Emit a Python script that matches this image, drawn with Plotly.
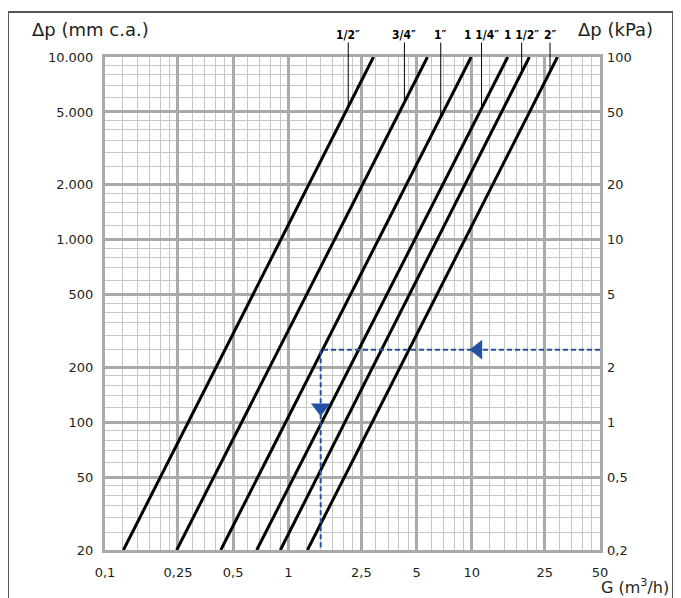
import numpy as np
import plotly.graph_objects as go

# ---------------- data ----------------
pipe_labels = ['1/2″', '3/4″', '1″', '1 1/4″', '1 1/2″', '2″']
dp_range_mm = [20, 10000]                      # Δp (mm c.a.) at the two ends of each line
g_at_dp_min = [0.126, 0.246, 0.428, 0.672, 0.904, 1.27]   # G (m3/h) at Δp = 20
g_at_dp_max = [2.91, 5.73, 9.92, 15.7, 20.6, 29.3]        # G (m3/h) at Δp = 10000
leader_g = [2.12, 4.29, 6.77, 11.3, 18.7, 26.7]           # G where each label's leader meets its line
label_dp = 13200                                           # Δp level of the labels (above the grid)

example_g = [50, 1.5, 1.5]          # worked example path (G)
example_dp = [250, 250, 20]         # worked example path (Δp mm c.a.)
arrow_left_pos = (10.8, 250)
arrow_down_pos = (1.5, 120)

x_tick_vals = [0.1, 0.25, 0.5, 1, 2.5, 5, 10, 25, 50]
x_tick_text = ['0,1', '0,25', '0,5', '1', '2,5', '5', '10', '25', '50']
x_minor_vals = [0.125, 0.15, 0.175, 0.2, 0.225, 0.3, 0.35, 0.4, 0.45, 0.6, 0.7, 0.8, 0.9,
                1.25, 1.5, 1.75, 2, 2.25, 3, 3.5, 4, 4.5, 6, 7, 8, 9,
                12.5, 15, 17.5, 20, 22.5, 30, 35, 40, 45]
y_tick_vals = [20, 50, 100, 200, 500, 1000, 2000, 5000, 10000]
y_tick_text = ['20', '50', '100', '200', '500', '1.000', '2.000', '5.000', '10.000']
y_minor_vals = [25, 30, 35, 40, 45, 60, 70, 80, 90, 120, 140, 160, 180,
                250, 300, 350, 400, 450, 600, 700, 800, 900, 1200, 1400, 1600, 1800,
                2500, 3000, 3500, 4000, 4500, 6000, 7000, 8000, 9000]
y2_tick_vals = [0.2, 0.5, 1, 2, 5, 10, 20, 50, 100]
y2_tick_text = ['0,2', '0,5', '1', '2', '5', '10', '20', '50', '100']

# ---------------- style ----------------
FONT = 'DejaVu Sans, sans-serif'
LABEL_FONT = 'Liberation Sans Narrow, DejaVu Sans Condensed, sans-serif'
TXT = '#231f20'
MAJOR = '#aaaaaa'
MINOR = '#c6c6c6'
BLUE = '#2352a3'

fig = go.Figure()

for i, name in enumerate(pipe_labels):
    fig.add_trace(go.Scatter(
        x=[g_at_dp_min[i], g_at_dp_max[i]], y=dp_range_mm,
        mode='lines', line=dict(color='black', width=3),
        name=name, showlegend=False, hoverinfo='skip'))

fig.add_trace(go.Scatter(
    x=example_g, y=example_dp, mode='lines',
    line=dict(color=BLUE, width=2, dash='5px,3px'),
    showlegend=False, hoverinfo='skip'))
fig.add_trace(go.Scatter(
    x=[arrow_left_pos[0]], y=[arrow_left_pos[1]], mode='markers',
    marker=dict(symbol='triangle-left', size=17, color=BLUE),
    showlegend=False, hoverinfo='skip'))
fig.add_trace(go.Scatter(
    x=[arrow_down_pos[0]], y=[arrow_down_pos[1]], mode='markers',
    marker=dict(symbol='triangle-down', size=17, color=BLUE),
    showlegend=False, hoverinfo='skip'))

# right-hand kPa axis carrier
fig.add_trace(go.Scatter(x=[None], y=[None], yaxis='y2', showlegend=False, hoverinfo='skip'))

# pipe labels with leaders
lmin, lmax = np.log10(dp_range_mm[0]), np.log10(dp_range_mm[1])
for i, name in enumerate(pipe_labels):
    g0, g1 = np.log10(g_at_dp_min[i]), np.log10(g_at_dp_max[i])
    frac = (np.log10(leader_g[i]) - g0) / (g1 - g0)
    y_end = lmin + frac * (lmax - lmin)
    fig.add_annotation(
        x=np.log10(leader_g[i]), y=y_end, xref='x', yref='y',
        ax=np.log10(leader_g[i]), ay=np.log10(label_dp), axref='x', ayref='y',
        text='<b>' + name + '</b>', showarrow=True, arrowhead=0, arrowwidth=1,
        arrowcolor='black', standoff=0, startstandoff=0,
        font=dict(family=LABEL_FONT, size=12, color='black'), borderpad=0)

# axis titles
fig.add_annotation(text='Δp (mm c.a.)', xref='paper', yref='paper', x=-0.152, y=1.055,
                   xanchor='left', yanchor='middle', showarrow=False,
                   font=dict(family=FONT, size=18, color=TXT))
fig.add_annotation(text='Δp (kPa)', xref='paper', yref='paper', x=1.111, y=1.055,
                   xanchor='right', yanchor='middle', showarrow=False,
                   font=dict(family=FONT, size=18, color=TXT))
fig.add_annotation(text='G (m<sup>3</sup>/h)', xref='paper', yref='paper', x=1.143, y=-0.075,
                   xanchor='right', yanchor='middle', showarrow=False,
                   font=dict(family=FONT, size=16, color=TXT))

# outer frame
fig.add_shape(type='rect', xref='paper', yref='paper', x0=-0.196, x1=1.1475, y0=-0.3, y1=1.0913,
              line=dict(color='#555555', width=2), fillcolor='rgba(0,0,0,0)', layer='below')

axis_common = dict(
    type='log', showline=True, linecolor=MAJOR, linewidth=3, mirror=True,
    ticks='', showgrid=True, gridcolor=MAJOR, gridwidth=3, zeroline=False,
    tickfont=dict(family=FONT, size=13, color=TXT),
)

# the page body adds an 8px offset; the figure is sized/margined to compensate
fig.update_layout(
    width=673, height=590,
    margin=dict(l=97, r=81, t=49, b=48),
    paper_bgcolor='white', plot_bgcolor='white',
    xaxis=dict(**axis_common, range=[np.log10(0.1), np.log10(50)],
               tickmode='array', tickvals=x_tick_vals, ticktext=x_tick_text,
               ticklabelstandoff=8,
               minor=dict(tickmode='array', tickvals=x_minor_vals, showgrid=True,
                          gridcolor=MINOR, gridwidth=1, ticks='')),
    yaxis=dict(**axis_common, range=[np.log10(20), np.log10(10000)],
               tickmode='array', tickvals=y_tick_vals, ticktext=y_tick_text,
               ticklabelstandoff=6,
               minor=dict(tickmode='array', tickvals=y_minor_vals, showgrid=True,
                          gridcolor=MINOR, gridwidth=1, ticks='')),
    yaxis2=dict(type='log', overlaying='y', side='right',
                range=[np.log10(0.2), np.log10(100)],
                tickmode='array', tickvals=y2_tick_vals, ticktext=y2_tick_text,
                showgrid=False, showline=False, zeroline=False, ticks='',
                ticklabelstandoff=6,
                tickfont=dict(family=FONT, size=13, color=TXT)),
)

fig.write_html('out.html')
